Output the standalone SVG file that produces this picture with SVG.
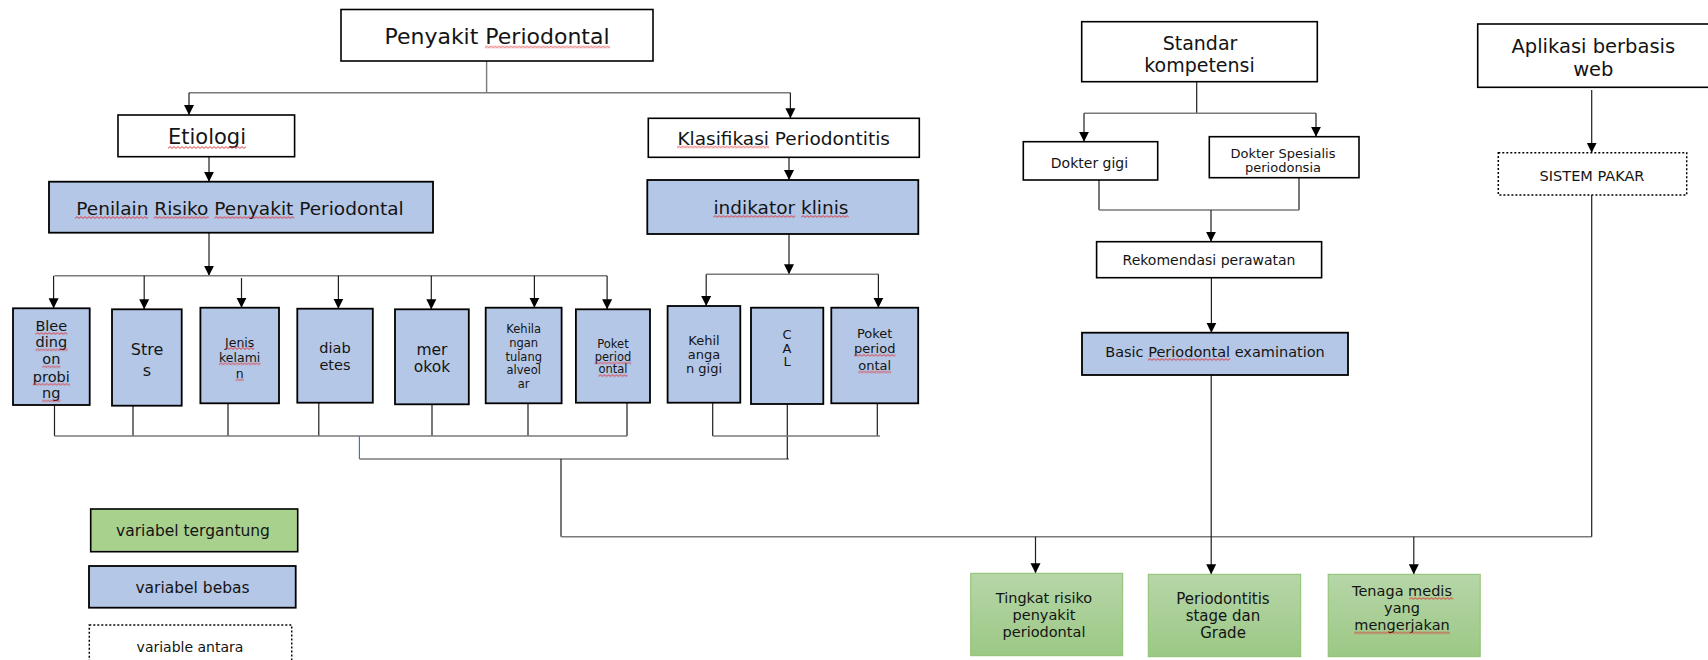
<svg xmlns="http://www.w3.org/2000/svg" width="1708" height="660" viewBox="0 0 1708 660">
<defs>
<marker id="arr" viewBox="0 0 10 10" refX="10" refY="5" markerWidth="10" markerHeight="12" markerUnits="userSpaceOnUse" orient="auto"><path d="M0,0 L10,5 L0,10 z" fill="#000"/></marker>
<linearGradient id="gr" x1="0" y1="0" x2="0" y2="1"><stop offset="0" stop-color="#B6D6A8"/><stop offset="1" stop-color="#9CC885"/></linearGradient>
<pattern id="wv" width="4" height="3" patternUnits="userSpaceOnUse"><path d="M0,2.4 L2,0.6 L4,2.4" fill="none" stroke="#E02828" stroke-width="0.9"/></pattern>
</defs>
<style>
text{font-family:"DejaVu Sans","Liberation Sans",sans-serif;fill:#141414;text-anchor:middle;dominant-baseline:central}
.w{fill:#fff;stroke:#000;stroke-width:1.6}
.b{fill:#B4C7E7;stroke:#000;stroke-width:1.8}
.g{fill:url(#gr);stroke:#8DC070;stroke-width:1}
.lg{fill:#A9D18E;stroke:#000;stroke-width:1.6}
.d{fill:#fff;stroke:#000;stroke-width:1.5;stroke-dasharray:2 2}
.sp rect{fill:url(#wv)}
.c path{fill:none}
.k{stroke:#1e1e1e;stroke-width:1.2}
.a{stroke:#1e1e1e;stroke-width:1.2;marker-end:url(#arr)}
.gy{stroke:#7a7a7a;stroke-width:1.4}
.bl{stroke:#4472C4;stroke-width:1.2}
</style>

<g class="c" id="connectors">
<path class="gy" d="M486.6,61 V92.7 M189,92.7 H790.4"/>
<path class="a" d="M189,92.7 V115"/>
<path class="a" d="M790.4,92.7 V118.3"/>
<path class="a" d="M209,156.7 V181.7"/>
<path class="a" d="M789,157.3 V180"/>
<path class="a" d="M209,232.7 V275.7"/>
<path class="gy" d="M54.5,275.7 H607"/>
<path class="a" d="M53.6,275.7 V308.3"/>
<path class="a" d="M144.2,275.7 V309.3"/>
<path class="a" d="M241.5,278 V307.7"/>
<path class="a" d="M338.4,275.7 V308.7"/>
<path class="a" d="M431.3,275.7 V309.3"/>
<path class="a" d="M534.4,275.7 V307.7"/>
<path class="a" d="M607.1,275.7 V309.3"/>
<path class="k" d="M54.5,405 V436 M133,405.7 V436 M228,403.3 V436 M318.8,402.7 V436 M432,404.3 V436 M528,403.3 V436 M627,402.7 V436"/>
<path class="gy" d="M54.5,436 H627"/>
<path class="bl" d="M359.4,436 V459"/>
<path class="gy" d="M359.4,459 H789"/>
<path class="a" d="M789,234 V274.3"/>
<path class="gy" d="M706.2,274.3 H878.4"/>
<path class="a" d="M706.2,274.3 V306"/>
<path class="a" d="M878.4,274.3 V307.7"/>
<path class="k" d="M712.7,402.7 V436 M877.3,403.3 V436 M787.3,404 V459"/>
<path class="gy" d="M712.7,436 H880"/>
<path class="k" d="M561,459 V536.7"/>
<path class="gy" d="M561,536.7 H1591.7"/>
<path class="a" d="M1035.5,536.7 V573.3"/>
<path class="a" d="M1413.8,536.7 V574.3"/>
<path class="k" d="M1196.7,81.7 V113.3"/>
<path class="gy" d="M1084,113.3 H1316"/>
<path class="a" d="M1084,113.3 V141.7"/>
<path class="a" d="M1316,113.3 V136.7"/>
<path class="k" d="M1099,180 V210 M1299,177.7 V210"/>
<path class="gy" d="M1099,210 H1299"/>
<path class="a" d="M1211,210 V241.7"/>
<path class="a" d="M1211.4,277.7 V332.7"/>
<path class="a" d="M1211.2,375 V574.3"/>
<path class="a" d="M1591.7,90 V152.7"/>
<path class="k" d="M1591.7,195 V536.7"/>
</g>

<g id="n-penyakit"><rect class="w" x="341" y="9.5" width="312" height="51.5"/><text x="497" y="36.5" font-size="22">Penyakit Periodontal</text></g>
<g id="n-etiologi"><rect class="w" x="118" y="115" width="176.6" height="41.7"/><text x="207" y="136.5" font-size="21">Etiologi</text></g>
<g id="n-penilain"><rect class="b" x="49" y="181.7" width="384" height="51"/><text x="240" y="208.5" font-size="18.5">Penilain Risiko Penyakit Periodontal</text></g>
<g id="n-klasifikasi"><rect class="w" x="648.3" y="118.3" width="271" height="39"/><text x="783.7" y="138" font-size="18.5">Klasifikasi Periodontitis</text></g>
<g id="n-indikator"><rect class="b" x="647.3" y="180" width="271" height="54"/><text x="781" y="207.5" font-size="18.5">indikator klinis</text></g>

<g id="n-bleeding"><rect class="b" x="13" y="308.3" width="76.7" height="96.7"/><text font-size="14.5"><tspan x="51.3" y="325.7">Blee</tspan><tspan x="51.3" y="342">ding</tspan><tspan x="51.3" y="359">on</tspan><tspan x="51.3" y="376.5">probi</tspan><tspan x="51.3" y="393.3">ng</tspan></text></g>
<g id="n-stres"><rect class="b" x="112" y="309.3" width="69.7" height="96.4"/><text font-size="16"><tspan x="147" y="349.3">Stre</tspan><tspan x="147" y="370">s</tspan></text></g>
<g id="n-jenis"><rect class="b" x="200.4" y="307.7" width="78.6" height="95.6"/><text font-size="12.5"><tspan x="239.7" y="341.7">Jenis</tspan><tspan x="239.7" y="357">kelami</tspan><tspan x="239.7" y="373">n</tspan></text></g>
<g id="n-diabetes"><rect class="b" x="297.3" y="308.7" width="75.5" height="94"/><text font-size="14.5"><tspan x="335" y="348.3">diab</tspan><tspan x="335" y="365">etes</tspan></text></g>
<g id="n-merokok"><rect class="b" x="395" y="309.3" width="73.8" height="95"/><text font-size="15.5"><tspan x="432" y="350">mer</tspan><tspan x="432" y="366.5">okok</tspan></text></g>
<g id="n-tulang"><rect class="b" x="485.7" y="307.7" width="75.9" height="95.6"/><text font-size="11.5"><tspan x="523.7" y="329">Kehila</tspan><tspan x="523.7" y="342.7">ngan</tspan><tspan x="523.7" y="356.5">tulang</tspan><tspan x="523.7" y="370">alveol</tspan><tspan x="523.7" y="384">ar</tspan></text></g>
<g id="n-poket1"><rect class="b" x="575.9" y="309.3" width="74.1" height="93.4"/><text font-size="11.5"><tspan x="613" y="344.3">Poket</tspan><tspan x="613" y="356.7">period</tspan><tspan x="613" y="369.3">ontal</tspan></text></g>
<g id="n-gigi"><rect class="b" x="667.6" y="306" width="72.7" height="96.7"/><text font-size="13"><tspan x="704" y="340">Kehil</tspan><tspan x="704" y="354">anga</tspan><tspan x="704" y="368">n gigi</tspan></text></g>
<g id="n-cal"><rect class="b" x="751" y="307.7" width="72.3" height="96.3"/><text font-size="13"><tspan x="787" y="334">C</tspan><tspan x="787" y="347.5">A</tspan><tspan x="787" y="361">L</tspan></text></g>
<g id="n-poket2"><rect class="b" x="831.3" y="307.7" width="86.9" height="95.6"/><text font-size="13"><tspan x="874.7" y="332.7">Poket</tspan><tspan x="874.7" y="348.3">period</tspan><tspan x="874.7" y="365">ontal</tspan></text></g>

<g id="n-standar"><rect class="w" x="1081.7" y="21.7" width="235.6" height="60"/><text font-size="19"><tspan x="1200" y="43.3">Standar</tspan><tspan x="1199.5" y="65">kompetensi</tspan></text></g>
<g id="n-doktergigi"><rect class="w" x="1023.3" y="141.7" width="134.4" height="38.3"/><text x="1089.5" y="163" font-size="14">Dokter gigi</text></g>
<g id="n-spesialis"><rect class="w" x="1209.3" y="136.7" width="149.7" height="41"/><text font-size="13"><tspan x="1283" y="153.3">Dokter Spesialis</tspan><tspan x="1283" y="166.5">periodonsia</tspan></text></g>
<g id="n-rekomendasi"><rect class="w" x="1096.6" y="241.7" width="225" height="36"/><text x="1209" y="260.3" font-size="14">Rekomendasi perawatan</text></g>
<g id="n-basic"><rect class="b" x="1082" y="332.7" width="266" height="42.3"/><text x="1215" y="352" font-size="14.5">Basic Periodontal examination</text></g>
<g id="n-aplikasi"><rect class="w" x="1477.7" y="24" width="240" height="63.3"/><text font-size="19.5"><tspan x="1593.3" y="45.7">Aplikasi berbasis</tspan><tspan x="1593.3" y="69">web</tspan></text></g>
<g id="n-sistempakar"><rect class="d" x="1498.3" y="152.7" width="188.4" height="42.3"/><text x="1592" y="175.5" font-size="14.5">SISTEM PAKAR</text></g>

<g id="n-tingkat"><rect class="g" x="970.7" y="573.3" width="152" height="82.4"/><text font-size="14.5"><tspan x="1044" y="598.3">Tingkat risiko</tspan><tspan x="1044" y="615">penyakit</tspan><tspan x="1044" y="631.7">periodontal</tspan></text></g>
<g id="n-stage"><rect class="g" x="1148.3" y="574.3" width="152.4" height="82.4"/><text font-size="15"><tspan x="1223" y="599.3">Periodontitis</tspan><tspan x="1223" y="616">stage dan</tspan><tspan x="1223" y="632.7">Grade</tspan></text></g>
<g id="n-tenaga"><rect class="g" x="1328.2" y="574.3" width="152" height="82.4"/><text font-size="14.5"><tspan x="1402" y="590.7">Tenaga medis</tspan><tspan x="1402" y="608.3">yang</tspan><tspan x="1402" y="625">mengerjakan</tspan></text></g>

<g id="legend-tergantung"><rect class="lg" x="90.7" y="509" width="207" height="42.7"/><text x="193" y="531" font-size="15.5">variabel tergantung</text></g>
<g id="legend-bebas"><rect class="b" x="89" y="566" width="206.7" height="41.7"/><text x="192.5" y="588" font-size="15.5">variabel bebas</text></g>
<g id="legend-antara"><rect class="d" x="89.3" y="625" width="202.4" height="42"/><text x="190" y="646.5" font-size="14">variable antara</text></g>

<g class="sp" id="spellcheck-marks">
<rect transform="translate(485,45.5)" width="125" height="3"/>
<rect transform="translate(168,146)" width="78" height="3"/>
<rect transform="translate(75,216)" width="73" height="3"/>
<rect transform="translate(153.7,216)" width="55" height="3"/>
<rect transform="translate(214.4,216)" width="80" height="3"/>
<rect transform="translate(677,145.5)" width="92" height="3"/>
<rect transform="translate(713.3,215)" width="82" height="3"/>
<rect transform="translate(801.2,215)" width="47.5" height="3"/>
<rect transform="translate(35.4,332)" width="32" height="3"/>
<rect transform="translate(35.5,348.3)" width="32" height="3"/>
<rect transform="translate(42.3,365.3)" width="18" height="3"/>
<rect transform="translate(32.7,382.8)" width="37.3" height="3"/>
<rect transform="translate(42.1,399.4)" width="18.4" height="3"/>
<rect transform="translate(225,347)" width="29.3" height="3"/>
<rect transform="translate(218.9,362.3)" width="41.7" height="3"/>
<rect transform="translate(235.7,378.3)" width="8" height="3"/>
<rect transform="translate(594.7,361.5)" width="36.6" height="3"/>
<rect transform="translate(598.5,374.1)" width="29.1" height="3"/>
<rect transform="translate(854,353.8)" width="41.4" height="3"/>
<rect transform="translate(858.3,370.5)" width="32.9" height="3"/>
<rect transform="translate(1147.8,358)" width="82.4" height="3"/>
<rect transform="translate(1409.4,597)" width="43.8" height="3"/>
<rect transform="translate(1354.1,631.3)" width="95.8" height="3"/>
</g>
</svg>
